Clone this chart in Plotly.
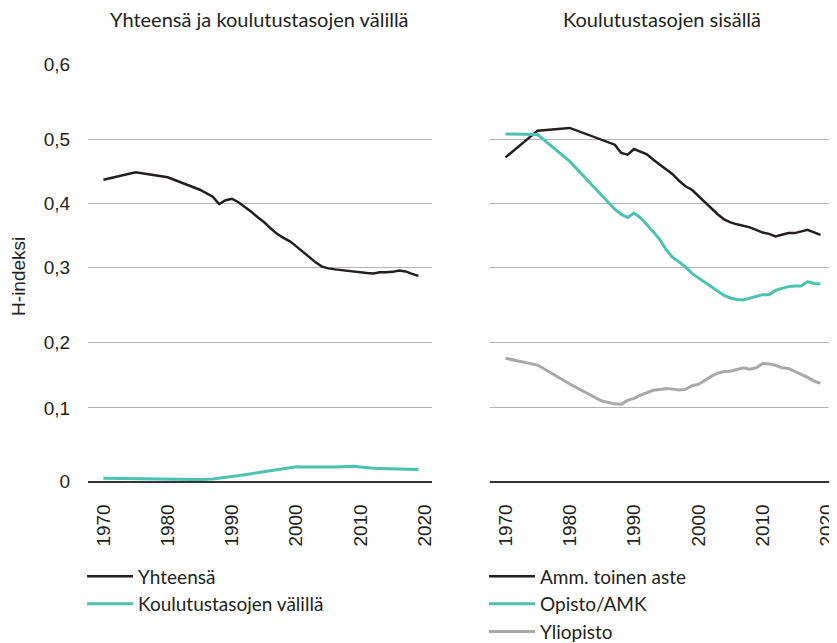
import plotly.graph_objects as go

years = [1970, 1975, 1980, 1985, 1987, 1988, 1989, 1990, 1991, 1992, 1993, 1994,
         1995, 1996, 1997, 1998, 1999, 2000, 2001, 2002, 2003, 2004, 2005, 2006,
         2007, 2008, 2009, 2010, 2011, 2012, 2013, 2014, 2015, 2016, 2017, 2018, 2019]

yhteensa = [0.4335, 0.4443, 0.4371, 0.4191, 0.4090, 0.3985, 0.4039, 0.4061, 0.4011,
            0.3946, 0.3874, 0.3794, 0.3722, 0.3636, 0.3556, 0.3499, 0.3448, 0.3376,
            0.3297, 0.3218, 0.3146, 0.3085, 0.3059, 0.3045, 0.3033, 0.3023, 0.3013,
            0.3004, 0.2994, 0.2987, 0.3004, 0.3004, 0.3009, 0.3027, 0.3016, 0.2980, 0.2951]

valilla = [0.0040, 0.0030, 0.0020, 0.0020, 0.0030, 0.0040, 0.0050, 0.0060, 0.0075,
           0.0090, 0.0105, 0.0120, 0.0135, 0.0150, 0.0165, 0.0180, 0.0195, 0.0205,
           0.0202, 0.0200, 0.0198, 0.0197, 0.0198, 0.0200, 0.0205, 0.0210, 0.0212,
           0.0200, 0.0188, 0.0182, 0.0180, 0.0177, 0.0174, 0.0172, 0.0170, 0.0167, 0.0165]

amm = [0.4656, 0.5041, 0.5080, 0.4907, 0.4839, 0.4720, 0.4695, 0.4777, 0.4739,
       0.4700, 0.4623, 0.4551, 0.4488, 0.4414, 0.4320, 0.4241, 0.4191, 0.4104,
       0.4018, 0.3924, 0.3838, 0.3765, 0.3722, 0.3693, 0.3672, 0.3650, 0.3614,
       0.3575, 0.3556, 0.3518, 0.3542, 0.3567, 0.3567, 0.3585, 0.3614, 0.3578, 0.3542]

opisto = [0.4994, 0.4984, 0.4599, 0.4097, 0.3910, 0.3838, 0.3791, 0.3855, 0.3787,
          0.3686, 0.3585, 0.3477, 0.3326, 0.3218, 0.3153, 0.3081, 0.2987, 0.2922,
          0.2857, 0.2792, 0.2727, 0.2670, 0.2634, 0.2612, 0.2605, 0.2627, 0.2655,
          0.2681, 0.2681, 0.2742, 0.2771, 0.2797, 0.2807, 0.2807, 0.2869, 0.2843, 0.2836]

yliopisto = [0.1765, 0.1668, 0.1395, 0.1150, 0.1110, 0.1106, 0.1160, 0.1188, 0.1235,
             0.1265, 0.1305, 0.1315, 0.1332, 0.1322, 0.1308, 0.1318, 0.1370, 0.1390,
             0.1450, 0.1505, 0.1550, 0.1575, 0.1580, 0.1600, 0.1629, 0.1610, 0.1629,
             0.1692, 0.1685, 0.1665, 0.1629, 0.1620, 0.1580, 0.1535, 0.1490, 0.1437, 0.1404]

x_ticks = [1970, 1980, 1990, 2000, 2010, 2020]
y_tickvals = [0, 0.1052, 0.1994, 0.3075, 0.3997, 0.4919, 0.6]
y_ticktext = ["0", "0,1", "0,2", "0,3", "0,4", "0,5", "0,6"]

BLACK = "#231f20"
TEAL = "#4cc3b0"
GRAY = "#a9a9ab"
TXT = "#231f20"
SANS = "Liberation Sans, Arial, sans-serif"
HUM = "Lato, sans-serif"

fig = go.Figure()

def add(y, name, color, xa, ya, legend, width):
    fig.add_trace(go.Scatter(x=years, y=y, name=name, mode="lines",
                             line=dict(color=color, width=width),
                             xaxis=xa, yaxis=ya, legend=legend, legendgroup=name))

add(yhteensa, "Yhteensä", BLACK, "x", "y", "legend", 2.5)
add(valilla, "Koulutustasojen välillä", TEAL, "x", "y", "legend", 3)
add(amm, "Amm. toinen aste", BLACK, "x2", "y2", "legend2", 2.5)
add(opisto, "Opisto/AMK", TEAL, "x2", "y2", "legend2", 3)
add(yliopisto, "Yliopisto", GRAY, "x2", "y2", "legend2", 3)

xcommon = dict(range=[1967.6, 2021.1], tickvals=x_ticks, tickangle=-90,
               showgrid=False, zeroline=False, showline=True, linecolor="#333333",
               linewidth=1.5, ticks="outside", ticklen=14, tickcolor="rgba(0,0,0,0)",
               ticklabeloverflow="allow",
               tickfont=dict(family=SANS, size=19, color=TXT))
ycommon = dict(range=[0, 0.6], tickvals=y_tickvals, ticktext=y_ticktext,
               showgrid=True, gridcolor="#b4b4b4", gridwidth=1, zeroline=False,
               showline=False, ticks="outside", ticklen=13, tickcolor="rgba(0,0,0,0)",
               tickfont=dict(family=SANS, size=19, color=TXT))

legcommon = dict(orientation="v", xanchor="left", yanchor="top",
                 font=dict(family=HUM, size=19, color=TXT),
                 tracegroupgap=0, bgcolor="rgba(0,0,0,0)", itemwidth=46)

fig.update_layout(
    width=829, height=635,
    margin=dict(l=80, r=3, t=56, b=162, autoexpand=False),
    paper_bgcolor="white", plot_bgcolor="white",
    xaxis=dict(domain=[0, 0.4611], anchor="y", **xcommon),
    xaxis2=dict(domain=[0.5389, 1.0], anchor="y2", **xcommon),
    yaxis=dict(domain=[0, 1], anchor="x", **ycommon),
    yaxis2=dict(domain=[0, 1], anchor="x2", showticklabels=False, **ycommon),
    legend=dict(x=-0.008, y=-0.183, **legcommon),
    legend2=dict(x=0.5308, y=-0.183, **legcommon),
    showlegend=True,
    annotations=[
        dict(text="Yhteensä ja koulutustasojen välillä", xref="paper", yref="paper",
             x=0.2305, y=1.107, xanchor="center", yanchor="middle", showarrow=False,
             font=dict(family=HUM, size=20, color=TXT)),
        dict(text="Koulutustasojen sisällä", xref="paper", yref="paper",
             x=0.7695, y=1.107, xanchor="center", yanchor="middle", showarrow=False,
             font=dict(family=HUM, size=20, color=TXT)),
        dict(text="H-indeksi", xref="paper", yref="paper", x=-0.0935, y=0.49,
             xanchor="center", yanchor="middle", textangle=-90, showarrow=False,
             font=dict(family=SANS, size=19, color=TXT)),
    ],
)

fig.write_html("out.html")
